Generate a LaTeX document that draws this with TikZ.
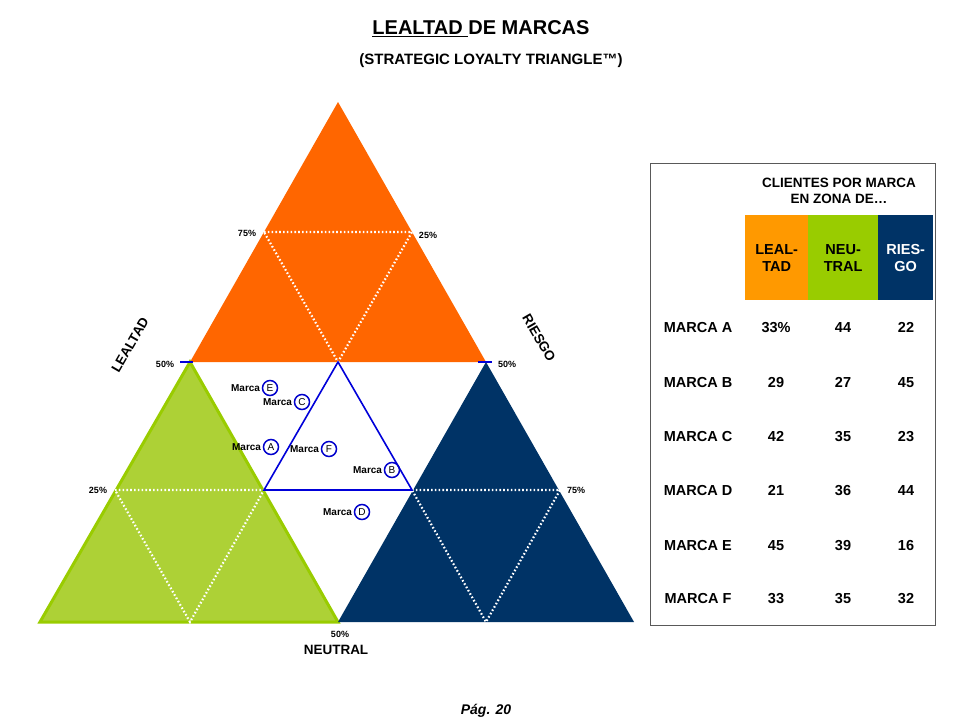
\documentclass[tikz,border=0pt]{standalone}
\usepackage{fontspec}
\setmainfont{Liberation Sans}
\begin{document}
\begin{tikzpicture}[x=1pt,y=-1pt,
  dots/.style={white,line width=2.2pt,dash pattern=on 1.6pt off 2.2pt},
  pct/.style={font=\fontsize{9}{10}\selectfont\bfseries},
  mk/.style={font=\fontsize{10}{11}\selectfont\bfseries},
  circ/.style={circle,draw=blue!80!black,line width=1.5pt,minimum size=15pt,inner sep=0pt,font=\fontsize{10}{11}\selectfont},
  cell/.style={font=\fontsize{14.5}{16}\selectfont\bfseries,align=center,anchor=base},
  hd/.style={minimum width=63pt,minimum height=85pt,anchor=north west,inner sep=0pt,font=\fontsize{14.5}{17}\selectfont\bfseries,align=center}]
\definecolor{orng}{HTML}{FF6600}
\definecolor{lgreen}{HTML}{ADD136}
\definecolor{dgreen}{HTML}{99CC00}
\definecolor{navy}{HTML}{003366}
\definecolor{torange}{HTML}{FF9900}
\useasboundingbox (0,0) rectangle (960,720);
\coordinate (ot) at (338,102); \coordinate (ol) at (190,362); \coordinate (or) at (486,362);
\coordinate (gl) at (40,622); \coordinate (gr) at (338,622);
\coordinate (nr) at (634,622);
\coordinate (m) at (338,362);
\fill[orng] (ot) -- (ol) -- (or) -- cycle;
\fill[lgreen] (ol) -- (gl) -- (gr) -- cycle;
\draw[dgreen,line width=3pt] (ol) -- (gl) -- (gr) -- cycle;
\fill[navy] (or) -- (gr) -- (nr) -- cycle;
\coordinate (o1) at (264,232); \coordinate (o2) at (412,232);
\coordinate (g1) at (115,490); \coordinate (g2) at (264,490); \coordinate (g3) at (190,622);
\coordinate (n1) at (412,490); \coordinate (n2) at (560,490); \coordinate (n3) at (486,622);
\draw[dots] (o1) -- (o2) -- (m) -- cycle;
\draw[dots] (g1) -- (g2) -- (g3) -- cycle;
\draw[dots] (n1) -- (n2) -- (n3) -- cycle;
\draw[blue!85!black,line width=1.6pt] (m) -- (g2) -- (n1) -- cycle;
\draw[blue!85!black,line width=2pt] (180,362) -- (193,362) (478,362) -- (492,362);
\node[pct] (p1) at (247,233) {75\%};
\node[pct] (p2) at (428,235) {25\%};
\node[pct] (p3) at (165,364) {50\%};
\node[pct] (p4) at (507,364) {50\%};
\node[pct] (p5) at (98,490) {25\%};
\node[pct] (p6) at (576,490) {75\%};
\node[pct] (p7) at (340,634) {50\%};
\node[font=\fontsize{13.5}{15}\selectfont\bfseries,rotate=60] (l1) at (130,345) {LEALTAD};
\node[font=\fontsize{13.5}{15}\selectfont\bfseries,rotate=-60] (l2) at (539,338) {RIESGO};
\node[font=\fontsize{13.5}{15}\selectfont\bfseries] (l3) at (336,650) {NEUTRAL};
\foreach \n/\cx/\cy in {E/270/388, C/302/402, A/271/447, F/329/449, B/392/470, D/362/512}{
  \node[circ] (c\n) at (\cx,\cy) {\n};
  \node[mk,anchor=east,inner sep=1pt] (t\n) at ([xshift=-0.5pt]c\n.west) {Marca};
}
\node[font=\fontsize{20}{22}\selectfont\bfseries] (title) at (481,29) {\underline{LEALTAD }DE MARCAS};
\node[font=\fontsize{15}{17}\selectfont\bfseries] (sub) at (491,61) {(STRATEGIC LOYALTY TRIANGLE\texttrademark)};
\draw[gray!70!black,line width=0.8pt] (650,163) rectangle (935,625);
\node[font=\fontsize{13.5}{16}\selectfont\bfseries,align=center] (th) at (839,191) {CLIENTES POR MARCA\\EN ZONA DE\ldots};
\node[hd,fill=torange] (h1) at (745,215) {LEAL-\\TAD};
\node[hd,fill=dgreen,minimum width=70pt] (h2) at (808,215) {NEU-\\TRAL};
\node[hd,fill=navy,text=white,minimum width=55pt] (h3) at (878,215) {RIES-\\GO};
\foreach \r/\y/\a/\b/\c in {A/332/33\%/44/22, B/387/29/27/45, C/441/42/35/23, D/495/21/36/44, E/550/45/39/16, F/603/33/35/32}{
  \node[cell] (r\r) at (698,\y) {MARCA \r};
  \node[cell] (r\r a) at (776,\y) {\a};
  \node[cell] (r\r b) at (843,\y) {\b};
  \node[cell] (r\r c) at (906,\y) {\c};
}
\node[font=\fontsize{14}{16}\selectfont\bfseries\itshape] (pg) at (486,711) {Pág. 20};
\end{tikzpicture}
\end{document}
